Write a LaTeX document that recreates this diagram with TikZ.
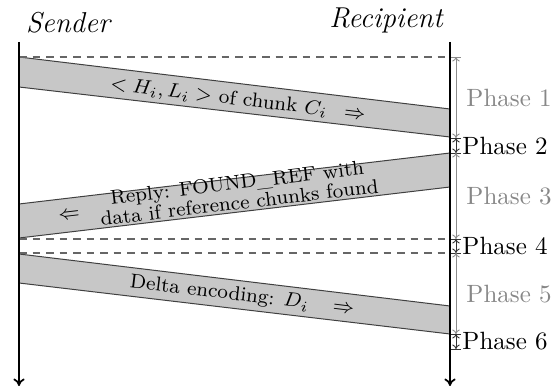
\documentclass[tikz,border=0pt]{standalone}
\usetikzlibrary{arrows.meta}
\begin{document}
\begin{tikzpicture}[x=0.4pt,y=-0.4pt,
  life/.style={line width=0.7pt,-{To[length=3pt,width=4.5pt]}},
  band/.style={fill=black!22,draw=black!75,line width=0.4pt},
  dline/.style={draw=black!60,line width=0.5pt,dash pattern=on 3pt off 2.4pt},
  phgray/.style={draw=black!45,line width=0.35pt,{To[length=1.8pt,width=3pt]}-{To[length=1.8pt,width=3pt]}},
  phblack/.style={draw=black!80,line width=0.35pt,{To[length=1.8pt,width=3pt]}-{To[length=1.8pt,width=3pt]}},
  tickg/.style={draw=black!45,line width=0.35pt},
  tickb/.style={draw=black!80,line width=0.35pt},
  lblg/.style={anchor=west,text=black!47,inner sep=0pt},
  lblb/.style={anchor=west,text=black,inner sep=0pt},
  msg/.style={inner sep=0pt,font=\footnotesize},
  who/.style={anchor=base,font=\fontsize{11.5}{13}\selectfont\itshape,inner sep=0pt}
]
\useasboundingbox (0,0) rectangle (555,386);
% names
\node[who] (snd) at (68,33) {Sender};
\node[who] (rcp) at (386,28) {Recipient};
% lifeline coordinates
\coordinate (sT) at (19,42);
\coordinate (sB) at (19,386);
\coordinate (rT) at (450,42);
\coordinate (rB) at (450,386);
% bands
\coordinate (a1) at (19,57);  \coordinate (a2) at (450,109);
\coordinate (a3) at (450,137); \coordinate (a4) at (19,87);
\coordinate (b1) at (450,153); \coordinate (b2) at (19,204);
\coordinate (b3) at (19,238);  \coordinate (b4) at (450,187);
\coordinate (c1) at (19,254);  \coordinate (c2) at (450,306);
\coordinate (c3) at (450,334); \coordinate (c4) at (19,283);
\draw[band] (a1) -- (a2) -- (a3) -- (a4) -- cycle;
\draw[band] (b1) -- (b2) -- (b3) -- (b4) -- cycle;
\draw[band] (c1) -- (c2) -- (c3) -- (c4) -- cycle;
% dashed lines
\coordinate (d1l) at (19,57);  \coordinate (d1r) at (450,57);
\coordinate (d2l) at (19,239); \coordinate (d2r) at (450,239);
\coordinate (d3l) at (19,253); \coordinate (d3r) at (450,253);
\draw[dline] (d1l) -- (d1r);
\draw[dline] (d2l) -- (d2r);
\draw[dline] (d3l) -- (d3r);
% lifelines
\draw[life] (sT) -- (sB);
\draw[life] (rT) -- (rB);
% messages
\node[msg,rotate=-6.9] (m1) at (238,100) {$< H_i, L_i >$ of chunk $C_i$ \enspace $\Rightarrow$};
\node[msg,rotate=6.8] (m2) at (218,197) {$\Leftarrow$\quad\begin{tabular}{@{}c@{}}Reply: FOUND\_REF with\\[-1.5pt] data if reference chunks found\end{tabular}};
\node[msg,rotate=-6.9] (m3) at (242,296) {Delta encoding: $D_i$ \enspace\ $\Rightarrow$};
% phase boundaries
\coordinate (p0) at (456,57);
\coordinate (p1) at (456,138);
\coordinate (p2) at (456,153);
\coordinate (p3) at (456,239);
\coordinate (p4) at (456,253);
\coordinate (p5) at (456,334);
\coordinate (p6) at (456,349);
\draw[tickg] ([xshift=-2pt]p0) -- ([xshift=2pt]p0);
\foreach \p in {p1,p2,p3,p4,p5,p6}{\draw[tickb] ([xshift=-2pt]\p) -- ([xshift=2pt]\p);}
\draw[phgray] (p0) -- (p1);
\draw[phblack] (p1) -- (p2);
\draw[phgray] (p2) -- (p3);
\draw[phblack] (p3) -- (p4);
\draw[phgray] (p4) -- (p5);
\draw[phblack] (p5) -- (p6);
\node[lblg] (ph1) at (466,97.5) {Phase 1};
\node[lblb] (ph2) at (462,145.5) {Phase 2};
\node[lblg] (ph3) at (466,196) {Phase 3};
\node[lblb] (ph4) at (462,246) {Phase 4};
\node[lblg] (ph5) at (466,294) {Phase 5};
\node[lblb] (ph6) at (462,341.5) {Phase 6};
\end{tikzpicture}
\end{document}
